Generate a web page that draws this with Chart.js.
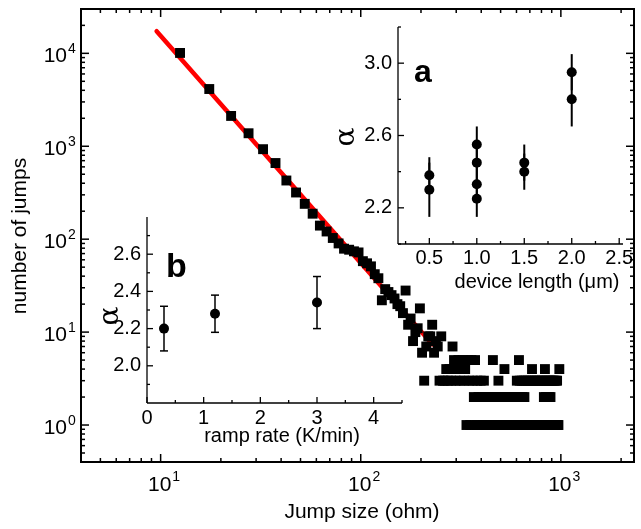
<!DOCTYPE html>
<html>
<head>
<meta charset="utf-8">
<script src="https://cdn.jsdelivr.net/npm/chart.js@4.4.1/dist/chart.umd.min.js"></script>
<style>
  body { margin: 0; background: #fff; }
  #wrap { position: relative; width: 641px; height: 529px; }
  #wrap canvas { position: absolute; left: 0; top: 0; }
</style>
</head>
<body>
<div id="wrap">
  <canvas id="mainChart" width="641" height="529"></canvas>
  <canvas id="insetB" width="641" height="529"></canvas>
  <canvas id="insetA" width="641" height="529"></canvas>
</div>
<script>
// histogram of jump sizes, 5 ohm bins, first bin centred at 12.5 ohm
const binStart = 12.5;
const binWidth = 5;
const jumpCounts = [
  10100, 4130, 2120, 1380, 930, 660, 428, 318, 240, 188,
  140, 121, 103, 90, 79, 77, 74, 72, 58, 55,
  51, 42, 38, 22, 29, 27, 25, 23, 20, 19,
  16, 28, 12, 14, 8, 10, 11, 18, 6, 3,
  7, 9, 9, 12, 6, 8, 7, 3, 9, 3,
  3, 4, 3, 4, 3, 7, 5, 3, 4, 5,
  3, 4, 5, 3, 4, 1, 5, 3, 1, 5,
  3, 2, 5, 1, 3, 2, 1, 3, 2, 1,
  3, 2, 1, 0, 2, 1, 0, 2, 1, 5,
  2, 1, 0, 2, 1, 3, 0, 2, 1, 0,
  2, 1, 4, 2, 1, 0, 2, 1, 0, 2,
  1, 0, 2, 1, 0, 2, 1, 0, 3, 2,
  1, 5, 3, 2, 1, 3, 2, 1, 3, 2,
  1, 3, 0, 1, 3, 0, 1, 3, 0, 1,
  3, 4, 1, 3, 0, 1, 3, 0, 1, 3,
  0, 1, 3, 0, 1, 3, 0, 1, 3, 0,
  1, 3, 2, 1, 4, 3, 2, 1, 3, 2,
  1, 3, 2, 1, 3, 2, 1, 3, 0, 1,
  3, 0, 1, 3, 0, 1, 3, 0, 1, 3,
  1, 0, 1, 0, 4
];
// power-law fit, end points
const fitX = [9.55, 228];
const fitY = [17300, 7.4];

// inset a: exponent vs device length
const lengthA = [0.5, 0.5, 1.0, 1.0, 1.0, 1.0, 1.5, 1.5, 2.0, 2.0];
const alphaA = [2.38, 2.30, 2.55, 2.45, 2.33, 2.25, 2.45, 2.40, 2.95, 2.80];
const errA = [0.10, 0.15, 0.10, 0.10, 0.10, 0.10, 0.10, 0.10, 0.10, 0.15];

// inset b: exponent vs ramp rate
const rampB = [0.3, 1.2, 3.0];
const alphaB = [2.20, 2.28, 2.34];
const errB = [0.12, 0.10, 0.14];

// tick labels
const xDecades = [1, 2, 3];        // 10^1 .. 10^3
const yDecades = [0, 1, 2, 3, 4];  // 10^0 .. 10^4
const aTicksX = [0.5, 1.0, 1.5, 2.0, 2.5];
const aTicksY = [2.2, 2.6, 3.0];
const bTicksX = [0, 1, 2, 3, 4];
const bTicksY = [2.0, 2.2, 2.4, 2.6];

const FONT = '"Liberation Sans", Arial, sans-serif';

var squares = [];
for (var i = 0; i < jumpCounts.length; i++) {
  if (jumpCounts[i] > 0) {
    squares.push({ x: binStart + binWidth * i, y: jumpCounts[i] });
  }
}

function line(ctx, x1, y1, x2, y2) {
  ctx.beginPath();
  ctx.moveTo(x1, y1);
  ctx.lineTo(x2, y2);
  ctx.stroke();
}

// minor ticks for a log axis: 2..9 times each decade inside the range
function logMinor(min, max) {
  var out = [];
  for (var e = Math.floor(Math.log10(min)); e <= Math.ceil(Math.log10(max)); e++) {
    for (var m = 2; m <= 9; m++) {
      var v = m * Math.pow(10, e);
      if (v >= min && v <= max) out.push(v);
    }
  }
  return out;
}

const mainFrame = {
  id: 'mainFrame',
  afterDraw: function (chart) {
    var ctx = chart.ctx, a = chart.chartArea;
    var x = chart.scales.x, y = chart.scales.y;
    ctx.save();
    ctx.strokeStyle = '#000';
    ctx.lineWidth = 2;
    ctx.strokeRect(a.left, a.top, a.right - a.left, a.bottom - a.top);
    ctx.lineWidth = 1.5;

    // inward ticks on all four sides
    xDecades.forEach(function (e) {
      var px = x.getPixelForValue(Math.pow(10, e));
      line(ctx, px, a.bottom, px, a.bottom - 8);
      line(ctx, px, a.top, px, a.top + 8);
    });
    logMinor(x.min, x.max).forEach(function (v) {
      var px = x.getPixelForValue(v);
      line(ctx, px, a.bottom, px, a.bottom - 4);
      line(ctx, px, a.top, px, a.top + 4);
    });
    yDecades.forEach(function (e) {
      var py = y.getPixelForValue(Math.pow(10, e));
      line(ctx, a.left, py, a.left + 8, py);
      line(ctx, a.right, py, a.right - 8, py);
    });
    logMinor(y.min, y.max).forEach(function (v) {
      var py = y.getPixelForValue(v);
      line(ctx, a.left, py, a.left + 4, py);
      line(ctx, a.right, py, a.right - 4, py);
    });

    // 10^n labels
    ctx.fillStyle = '#000';
    ctx.textBaseline = 'alphabetic';
    xDecades.forEach(function (e) {
      var px = x.getPixelForValue(Math.pow(10, e));
      ctx.font = '21px ' + FONT;
      ctx.textAlign = 'center';
      ctx.fillText('10', px - 1, a.bottom + 29);
      var w = ctx.measureText('10').width;
      ctx.font = '14px ' + FONT;
      ctx.textAlign = 'left';
      ctx.fillText(String(e), px - 1 + w / 2 + 1, a.bottom + 19);
    });
    yDecades.forEach(function (e) {
      var py = y.getPixelForValue(Math.pow(10, e));
      ctx.font = '21px ' + FONT;
      ctx.textAlign = 'right';
      ctx.fillText('10', a.left - 14, py + 9);
      ctx.font = '14px ' + FONT;
      ctx.textAlign = 'left';
      ctx.fillText(String(e), a.left - 13, py);
    });

    // axis titles
    ctx.font = '21px ' + FONT;
    ctx.textAlign = 'center';
    ctx.fillText('Jump size (ohm)', 362, 518);
    ctx.save();
    ctx.translate(26, 236);
    ctx.rotate(-Math.PI / 2);
    ctx.fillText('number of jumps', 0, 0);
    ctx.restore();
    ctx.restore();
  }
};

function errorBars(xs, ys, err, width, cap) {
  return {
    id: 'errorBars',
    beforeDatasetsDraw: function (chart) {
      var ctx = chart.ctx, x = chart.scales.x, y = chart.scales.y;
      ctx.save();
      ctx.strokeStyle = '#000';
      ctx.lineWidth = width;
      for (var i = 0; i < xs.length; i++) {
        var px = x.getPixelForValue(xs[i]);
        var top = y.getPixelForValue(ys[i] + err[i]);
        var bot = y.getPixelForValue(ys[i] - err[i]);
        line(ctx, px, top, px, bot);
        if (cap) {
          line(ctx, px - cap, top, px + cap, top);
          line(ctx, px - cap, bot, px + cap, bot);
        }
      }
      ctx.restore();
    }
  };
}

// left + bottom axes of an inset, ticks inward
function insetFrame(cfg) {
  return {
    id: 'insetFrame',
    afterDraw: function (chart) {
      var ctx = chart.ctx, a = chart.chartArea;
      var x = chart.scales.x, y = chart.scales.y;
      ctx.save();
      ctx.strokeStyle = '#000';
      ctx.lineWidth = 1.3;
      line(ctx, a.left, a.top, a.left, a.bottom);
      line(ctx, a.left, a.bottom, a.right, a.bottom);
      cfg.xMajor.forEach(function (v) {
        var px = x.getPixelForValue(v);
        line(ctx, px, a.bottom, px, a.bottom - 6);
      });
      cfg.xMinor.forEach(function (v) {
        var px = x.getPixelForValue(v);
        line(ctx, px, a.bottom, px, a.bottom - 3);
      });
      cfg.yMajor.forEach(function (v) {
        var py = y.getPixelForValue(v);
        line(ctx, a.left, py, a.left + 6, py);
      });
      cfg.yMinor.forEach(function (v) {
        var py = y.getPixelForValue(v);
        line(ctx, a.left, py, a.left + 3, py);
      });

      ctx.fillStyle = '#000';
      ctx.font = '20px ' + FONT;
      ctx.textBaseline = 'middle';
      ctx.textAlign = 'center';
      cfg.xMajor.forEach(function (v) {
        ctx.fillText(v.toFixed(cfg.xDigits), x.getPixelForValue(v), a.bottom + cfg.xLabelGap);
      });
      ctx.textAlign = 'right';
      cfg.yMajor.forEach(function (v) {
        ctx.fillText(v.toFixed(1), a.left - 6, y.getPixelForValue(v));
      });
      ctx.textAlign = 'center';
      ctx.fillText(cfg.xTitle, cfg.xTitleAt[0], cfg.xTitleAt[1]);

      ctx.save();
      ctx.font = '28px "DejaVu Serif", serif';
      ctx.translate(cfg.alphaAt[0], cfg.alphaAt[1]);
      ctx.rotate(-Math.PI / 2);
      ctx.fillText('α', 0, 0);
      ctx.restore();

      ctx.font = 'bold ' + cfg.panelSize + 'px ' + FONT;
      ctx.textAlign = 'left';
      ctx.textBaseline = 'alphabetic';
      ctx.fillText(cfg.panel, cfg.panelAt[0], cfg.panelAt[1]);
      ctx.restore();
    }
  };
}

Chart.defaults.animation = false;

new Chart(document.getElementById('mainChart'), {
  type: 'scatter',
  data: {
    datasets: [{
      data: squares,
      pointStyle: 'rect',
      pointRadius: 7,
      pointBackgroundColor: '#000',
      pointBorderWidth: 0
    }, {
      data: fitX.map(function (v, i) { return { x: v, y: fitY[i] }; }),
      showLine: true,
      borderColor: '#ff0000',
      borderWidth: 4.5,
      borderCapStyle: 'round',
      pointRadius: 0
    }]
  },
  options: {
    responsive: false,
    layout: { padding: { left: 81, top: 9, right: 3, bottom: 67 } },
    plugins: { legend: { display: false }, tooltip: { enabled: false } },
    scales: {
      x: { type: 'logarithmic', min: 4, max: 2320, display: false },
      y: { type: 'logarithmic', min: 0.4, max: 30000, display: false }
    }
  },
  plugins: [mainFrame]
});

new Chart(document.getElementById('insetA'), {
  type: 'scatter',
  data: {
    datasets: [{
      data: lengthA.map(function (v, i) { return { x: v, y: alphaA[i] }; }),
      pointRadius: 5,
      pointBackgroundColor: '#000',
      pointBorderWidth: 0
    }]
  },
  options: {
    responsive: false,
    layout: { padding: { left: 398, top: 27, right: 18, bottom: 285 } },
    plugins: { legend: { display: false }, tooltip: { enabled: false } },
    scales: {
      x: { type: 'linear', min: 0.17, max: 2.54, display: false },
      y: { type: 'linear', min: 2.0, max: 3.2, display: false }
    }
  },
  plugins: [
    errorBars(lengthA, alphaA, errA, 2, 0),
    insetFrame({
      xMajor: aTicksX, xMinor: [0.25, 0.75, 1.25, 1.75, 2.25],
      yMajor: aTicksY, yMinor: [2.0, 2.4, 2.8, 3.2],
      xDigits: 1, xLabelGap: 14,
      xTitle: 'device length (μm)', xTitleAt: [537, 282],
      alphaAt: [347, 137],
      panel: 'a', panelSize: 32, panelAt: [414, 82]
    })
  ]
});

new Chart(document.getElementById('insetB'), {
  type: 'scatter',
  data: {
    datasets: [{
      data: rampB.map(function (v, i) { return { x: v, y: alphaB[i] }; }),
      pointRadius: 5,
      pointBackgroundColor: '#000',
      pointBorderWidth: 0
    }]
  },
  options: {
    responsive: false,
    layout: { padding: { left: 147, top: 217, right: 239, bottom: 126 } },
    plugins: { legend: { display: false }, tooltip: { enabled: false } },
    scales: {
      x: { type: 'linear', min: 0, max: 4.5, display: false },
      y: { type: 'linear', min: 1.8, max: 2.8, display: false }
    }
  },
  plugins: [
    errorBars(rampB, alphaB, errB, 1.5, 4),
    insetFrame({
      xMajor: bTicksX, xMinor: [0.5, 1.5, 2.5, 3.5, 4.5],
      yMajor: bTicksY, yMinor: [1.9, 2.1, 2.3, 2.5, 2.7],
      xDigits: 0, xLabelGap: 15,
      xTitle: 'ramp rate (K/min)', xTitleAt: [282, 436],
      alphaAt: [111, 316],
      panel: 'b', panelSize: 34, panelAt: [166, 277]
    })
  ]
});
</script>
</body>
</html>
